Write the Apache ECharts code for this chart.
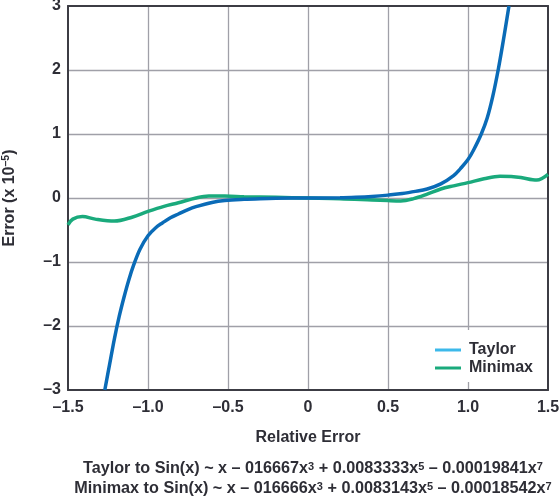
<!DOCTYPE html>
<html>
<head>
<meta charset="utf-8">
<script src="https://cdn.jsdelivr.net/npm/echarts@6/dist/echarts.min.js"></script>
<style>
html,body{margin:0;padding:0;background:#fff;}
#chart{width:559px;height:496px;}
</style>
</head>
<body>
<div id="chart"></div>
<script>
// ---- data ----
var xTicks = [-1.5, -1.0, -0.5, 0, 0.5, 1.0, 1.5];
var yTicks = [-3, -2, -1, 0, 1, 2, 3];

var taylorX = [-1.27, -1.24, -1.21, -1.18, -1.15, -1.12, -1.09, -1.05, -1.0, -0.95, -0.91, -0.86, -0.81, -0.75, -0.7, -0.6, -0.52, -0.4, -0.3, -0.2, 0, 0.2, 0.3, 0.4, 0.5, 0.575, 0.66, 0.745, 0.83, 0.91, 0.953, 1.0, 1.035, 1.083, 1.12, 1.154, 1.19, 1.22, 1.256];
var taylorY = [-3, -2.6, -2.2, -1.85, -1.55, -1.28, -1.05, -0.8, -0.59, -0.46, -0.39, -0.31, -0.25, -0.18, -0.135, -0.07, -0.04, -0.02, -0.01, -0.004, 0, 0.004, 0.012, 0.025, 0.045, 0.065, 0.10, 0.14, 0.22, 0.35, 0.46, 0.60, 0.75, 1.0, 1.25, 1.58, 2.02, 2.45, 3];

var minimaxX = [-1.5, -1.47, -1.41, -1.33, -1.21, -1.1, -1.0, -0.9, -0.81, -0.7, -0.62, -0.52, -0.4, -0.2, 0, 0.2, 0.4, 0.5, 0.58, 0.66, 0.745, 0.83, 0.91, 1.0, 1.1, 1.2, 1.27, 1.33, 1.43, 1.5];
var minimaxY = [-0.42, -0.33, -0.29, -0.33, -0.36, -0.30, -0.21, -0.13, -0.075, 0.0, 0.03, 0.03, 0.02, 0.01, 0, -0.01, -0.03, -0.04, -0.045, -0.01, 0.06, 0.14, 0.19, 0.24, 0.30, 0.34, 0.335, 0.32, 0.28, 0.37];

var seriesNames = ['Taylor', 'Minimax'];
var formulaLines = [
  'Taylor to Sin(x) ~ x \u2013 016667x{s|3} + 0.0083333x{s|5} \u2013 0.00019841x{s|7}',
  'Minimax to Sin(x) ~ x \u2013 016666x{s|3} + 0.0083143x{s|5} \u2013 0.00018542x{s|7}'
];
var xAxisTitle = 'Relative Error';
var yAxisTitle = 'Error (x 10{s|\u20135})';

// ---- build ----
function pairs(xs, ys) { return xs.map(function (x, i) { return [x, ys[i]]; }); }
function fmt(v, dec) {
  var s = Math.abs(v) < 1e-9 ? '0' : Math.abs(v).toFixed(dec);
  return (v < -1e-9 ? '\u2013' : '') + s;
}

var TXT = '#2e2e36';
var FONT = 'Liberation Sans, Arial, sans-serif';
var BORDER = '#3c3c44';
var GRIDC = '#a0a0a8';

var chart = echarts.init(document.getElementById('chart'), null, {renderer: 'canvas'});
var supStyle = {fontSize: 10.5, fontWeight: 'bold', fontFamily: FONT, color: TXT, verticalAlign: 'top', lineHeight: 10};

chart.setOption({
  animation: false,
  backgroundColor: '#fff',
  grid: {left: 68, right: 11, top: 6, bottom: 106, containLabel: false, outerBoundsMode: 'none'},
  xAxis: [{
    type: 'value', min: xTicks[0], max: xTicks[xTicks.length - 1], interval: 0.5,
    name: xAxisTitle, nameLocation: 'middle', nameGap: 40,
    nameTextStyle: {fontSize: 16, fontWeight: 'bold', fontFamily: FONT, color: TXT},
    axisLine: {show: true, onZero: false, lineStyle: {color: BORDER, width: 2}},
    axisTick: {show: false},
    axisLabel: {margin: 10, fontSize: 16, fontWeight: 'bold', fontFamily: FONT, color: TXT,
      formatter: function (v) { return v === 0 ? '0' : fmt(v, 1); }},
    splitLine: {show: true, showMinLine: false, showMaxLine: false, lineStyle: {color: GRIDC, width: 1.3}}
  }, {
    type: 'value', position: 'top', min: xTicks[0], max: xTicks[xTicks.length - 1], interval: 0.5,
    axisLine: {show: true, onZero: false, lineStyle: {color: BORDER, width: 2}},
    axisTick: {show: false}, axisLabel: {show: false}, splitLine: {show: false}
  }],
  yAxis: [{
    type: 'value', min: yTicks[0], max: yTicks[yTicks.length - 1], interval: 1,
    name: yAxisTitle, nameLocation: 'middle', nameGap: 49, nameRotate: 90,
    nameTextStyle: {fontSize: 16, fontWeight: 'bold', fontFamily: FONT, color: TXT, lineHeight: 18,
      rich: {s: supStyle}},
    axisLine: {show: true, onZero: false, lineStyle: {color: BORDER, width: 2}},
    axisTick: {show: false},
    axisLabel: {margin: 7, fontSize: 16, fontWeight: 'bold', fontFamily: FONT, color: TXT,
      formatter: function (v) { return fmt(v, 0); }},
    splitLine: {show: true, showMinLine: false, showMaxLine: false, lineStyle: {color: GRIDC, width: 1.3}}
  }, {
    type: 'value', position: 'right', min: yTicks[0], max: yTicks[yTicks.length - 1], interval: 1,
    axisLine: {show: true, onZero: false, lineStyle: {color: BORDER, width: 2}},
    axisTick: {show: false}, axisLabel: {show: false}, splitLine: {show: false}
  }],
  legend: {
    orient: 'vertical', left: 427, top: 330,
    backgroundColor: '#fff',
    padding: [11, 8, 5, 8],
    itemGap: 0, itemWidth: 26, itemHeight: 3, icon: 'rect',
    textStyle: {fontSize: 16, fontWeight: 'bold', fontFamily: FONT, color: TXT, lineHeight: 18, padding: [0, 0, 0, 3]},
    data: [
      {name: seriesNames[0], itemStyle: {color: '#3cb9ea', borderWidth: 0}},
      {name: seriesNames[1], itemStyle: {color: '#1aaa7c', borderWidth: 0}}
    ]
  },
  series: [{
    name: seriesNames[1], type: 'line', smooth: 0.35, showSymbol: false, symbol: 'none',
    data: pairs(minimaxX, minimaxY), z: 3,
    itemStyle: {color: '#1aaa7c'},
    lineStyle: {color: '#1aaa7c', width: 3.5}
  }, {
    name: seriesNames[0], type: 'line', smooth: 0.35, showSymbol: false, symbol: 'none',
    data: pairs(taylorX, taylorY), z: 4,
    itemStyle: {color: '#3cb9ea'},
    lineStyle: {color: '#0a6bb7', width: 3.5}
  }],
  graphic: formulaLines.map(function (t, i) {
    return {
      type: 'text', x: 313, y: 469 + i * 20,
      style: {text: t, align: 'center', verticalAlign: 'middle',
        font: 'bold 16.2px ' + FONT, fill: TXT,
        rich: {s: {fontSize: 11, fontWeight: 'bold', fontFamily: FONT, fill: TXT, verticalAlign: 'top', lineHeight: 10}}}
    };
  })
});
</script>
</body>
</html>
